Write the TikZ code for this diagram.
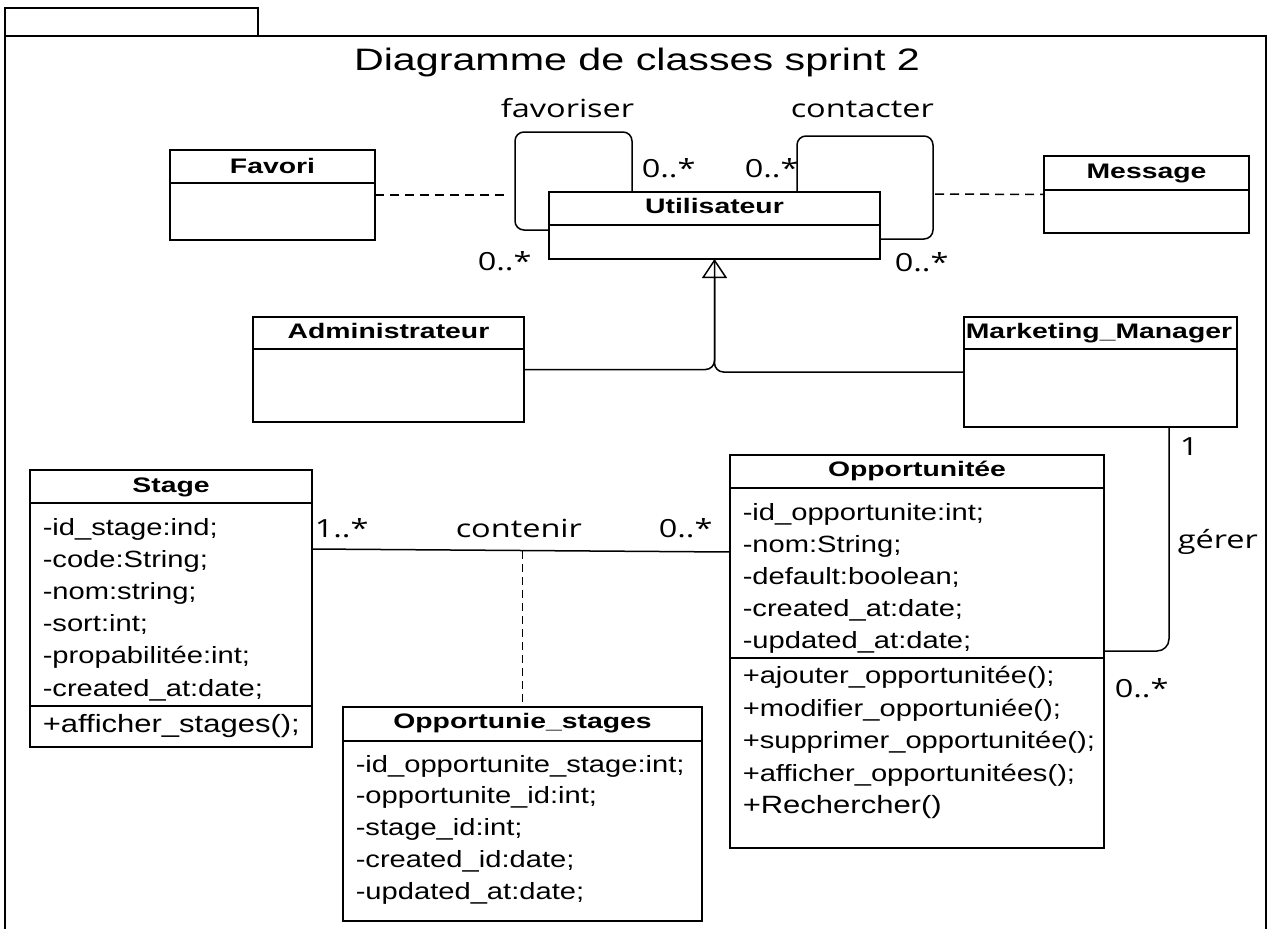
\documentclass[tikz,border=0pt]{standalone}
\usepackage{fontspec}
\setmainfont{Liberation Sans}
\newfontfamily\titlef{Liberation Sans}[FakeStretch=1.33]
\newfontfamily\clsf{Liberation Sans}[FakeStretch=1.35]
\newfontfamily\attrf{Liberation Sans}[FakeStretch=1.24]
\newfontfamily\lblf{Open Sans}[FakeStretch=1.3]
\usetikzlibrary{arrows.meta}

\begin{document}
\begin{tikzpicture}[x=1pt, y=-1pt, line width=1.5pt,
  box/.style={draw, inner sep=0, outer sep=0, anchor=north west},
  cname/.style={inner sep=0, anchor=base, font=\clsf\bfseries\fontsize{21}{25}\selectfont},
  attr/.style={inner sep=0, anchor=base west, font=\attrf\fontsize{23.5}{28}\selectfont},
  bigattr/.style={attr, font=\attrf\fontsize{25}{30}\selectfont},
  lbl/.style={inner sep=0, anchor=base west, font=\lblf\fontsize{25}{30}\selectfont},
  assocdash/.style={dash pattern=on 9pt off 6pt},
  inherit/.style={-{Triangle[open, length=19pt, width=25pt]}}
]
\useasboundingbox (0,0) rectangle (1275,929);

% package frame with its tab
\draw (5,935) -- (5,36) -- (1266,36) -- (1266,935);
\draw (5,36) -- (5,8) -- (258,8) -- (258,36);
\node[inner sep=0, anchor=base, font=\titlef\fontsize{31}{36}\selectfont] (title) at (637,70) {Diagramme de classes sprint 2};

% class boxes
\node[box, minimum width=205pt, minimum height=90pt]  (favori) at (170,150) {};
\node[box, minimum width=331pt, minimum height=67pt]  (util)   at (549,192) {};
\node[box, minimum width=205pt, minimum height=77pt]  (msg)    at (1044,156) {};
\node[box, minimum width=271pt, minimum height=105pt] (admin)  at (253,317) {};
\node[box, minimum width=273pt, minimum height=110pt] (mm)     at (964,317) {};
\node[box, minimum width=282pt, minimum height=277pt] (stage)  at (30,470) {};
\node[box, minimum width=374pt, minimum height=393pt] (opp)    at (730,455) {};
\node[box, minimum width=359pt, minimum height=214pt] (ops)    at (343,707) {};

% compartment separators
\draw ([yshift=-33pt]favori.north west) -- ([yshift=-33pt]favori.north east);
\draw ([yshift=-33pt]util.north west) -- ([yshift=-33pt]util.north east);
\draw ([yshift=-34pt]msg.north west) -- ([yshift=-34pt]msg.north east);
\draw ([yshift=-32pt]admin.north west) -- ([yshift=-32pt]admin.north east);
\draw ([yshift=-32pt]mm.north west) -- ([yshift=-32pt]mm.north east);
\draw ([yshift=-33pt]stage.north west) -- ([yshift=-33pt]stage.north east);
\draw ([yshift=-236pt]stage.north west) -- ([yshift=-236pt]stage.north east);
\draw ([yshift=-33pt]opp.north west) -- ([yshift=-33pt]opp.north east);
\draw ([yshift=-203pt]opp.north west) -- ([yshift=-203pt]opp.north east);
\draw ([yshift=-34pt]ops.north west) -- ([yshift=-34pt]ops.north east);

% class names
\node[cname] (favoriN) at (272.5,173) {Favori};
\node[cname] (utilN)   at (714.5,213) {Utilisateur};
\node[cname] (msgN)    at (1146.5,178) {Message};
\node[cname] (adminN)  at (388.5,338) {Administrateur};
\node[cname] (mmN)     at (1099,338) {Marketing\_Manager};
\node[cname] (stageN)  at (171,492) {Stage};
\node[cname] (oppN)    at (917,476) {Opportunitée};
\node[cname] (opsN)    at (522.5,728) {Opportunie\_stages};

% Stage members
\node[attr] (s1) at (42,535) {-id\_stage:ind;};
\node[attr] (s2) at (42,567) {-code:String;};
\node[attr] (s3) at (42,599) {-nom:string;};
\node[attr] (s4) at (42,631) {-sort:int;};
\node[attr] (s5) at (42,663) {-propabilitée:int;};
\node[attr] (s6) at (42,696) {-created\_at:date;};
\node[bigattr] (s7) at (42,732) {+afficher\_stages();};

% Opportunitée members
\node[attr] (o1) at (742,520) {-id\_opportunite:int;};
\node[attr] (o2) at (742,552) {-nom:String;};
\node[attr] (o3) at (742,584) {-default:boolean;};
\node[attr] (o4) at (742,616) {-created\_at:date;};
\node[attr] (o5) at (742,648) {-updated\_at:date;};
\node[attr] (o6) at (742,683) {+ajouter\_opportunitée();};
\node[attr] (o7) at (742,716) {+modifier\_opportuniée();};
\node[attr] (o8) at (742,748) {+supprimer\_opportunitée();};
\node[attr] (o9) at (742,781) {+afficher\_opportunitées();};
\node[bigattr] (o10) at (742,813) {+Rechercher()};

% Opportunie_stages members
\node[attr] (p1) at (355,772) {-id\_opportunite\_stage:int;};
\node[attr] (p2) at (355,803) {-opportunite\_id:int;};
\node[attr] (p3) at (355,835) {-stage\_id:int;};
\node[attr] (p4) at (355,867) {-created\_id:date;};
\node[attr] (p5) at (355,899) {-updated\_at:date;};

% reflexive association: favoriser
\coordinate (favA) at (515,132);
\coordinate (favB) at (632,132);
\draw[rounded corners=9pt] ([yshift=-38pt]util.north west) -| (favA) -- (favB) -- ([xshift=-82.5pt]util.north);
\node[lbl] (favL) at (500,117) {favoriser};
\node[lbl] (favM1) at (641,177) {0..*};
\node[lbl] (favM2) at (477,270) {0..*};

% reflexive association: contacter
\coordinate (conA) at (797,136);
\coordinate (conB) at (933,136);
\coordinate (conC) at (933,239);
\draw[rounded corners=9pt] ([xshift=82.5pt]util.north) -- (conA) -- (conB) -- (conC) -- ([yshift=-47pt]util.north east);
\node[lbl] (conL) at (790,117) {contacter};
\node[lbl] (conM1) at (744,177) {0..*};
\node[lbl] (conM2) at (894,271) {0..*};

% association classes
\coordinate (favDash) at (507,195);
\draw[assocdash] (favori.east) -- (favDash);
\coordinate (msgDash) at (935,194);
\draw[assocdash] (msgDash) -- (msg.west);

% generalisation
\draw[rounded corners=9pt] (mm.west) -| (util.south);
\draw[rounded corners=9pt, inherit] (admin.east) -| (util.south);

% gérer
\draw[rounded corners=12pt] ([xshift=68.5pt]mm.south) |- ([yshift=-196pt]opp.north east);
\node[lbl] (gerM1) at (1179,455) {1};
\node[lbl] (gerL) at (1177,548) {gérer};
\node[lbl] (gerM2) at (1114,697) {0..*};

% contenir
\draw ([yshift=-79pt]stage.north east) -- ([yshift=-97pt]opp.north west);
\coordinate (cmid) at (522.5,551);
\draw[dash pattern=on 8pt off 5pt] (cmid) -- (ops.north);
\node[lbl] (cntM1) at (314,537) {1..*};
\node[lbl] (cntL) at (455,537) {contenir};
\node[lbl] (cntM2) at (658,537) {0..*};
\end{tikzpicture}
\end{document}
